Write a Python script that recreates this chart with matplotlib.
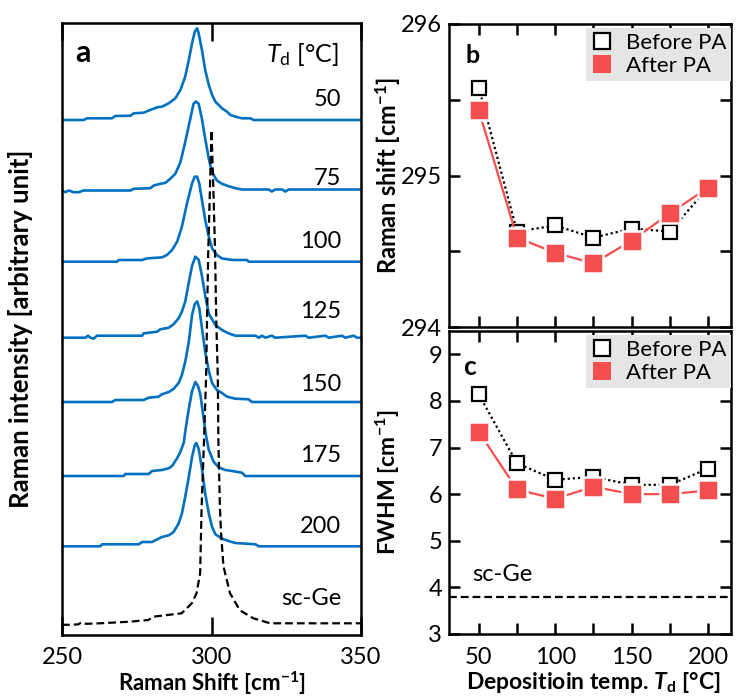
import matplotlib
matplotlib.use("Agg")
import matplotlib.pyplot as plt
from matplotlib.lines import Line2D

plt.rcParams['font.family'] = ['Lato', 'DejaVu Sans']
plt.rcParams['mathtext.fontset'] = 'custom'
plt.rcParams['mathtext.rm'] = 'Lato'
plt.rcParams['mathtext.it'] = 'Lato:italic'
plt.rcParams['mathtext.bf'] = 'Lato:bold'
plt.rcParams['mathtext.bfit'] = 'Lato:italic:bold'

# ---------------- Raman spectra (panel a) ----------------
deposition_labels = ["50", "75", "100", "125", "150", "175", "200"]

shift_50 = [250.0, 257.2, 258.4, 266.7, 267.8, 272.9, 274.0, 277.3, 279.5, 281.8, 283.4,
            285.7, 287.9, 289.6, 291.2, 292.4, 293.5, 294.4, 295.2, 295.7, 296.8, 297.9,
            299.1, 300.2, 301.3, 303.5, 305.2, 306.3, 308.0, 310.2, 313.0, 314.1, 350.0]
int_50 = [0, 0, 1.7, 1.7, 4, 4.3, 6.7, 7.3, 10, 12.7, 13.3, 16.7, 21.7, 30, 43.3, 60,
          76.7, 88.3, 91.7, 86.7, 70, 50, 35, 25, 18.3, 11.7, 8.3, 5, 3.3, 1.7, 1.7, 0, 0]

shift_75 = [250.0, 251.1, 252.2, 253.9, 255.6, 257.2, 272.9, 274.0, 279.5, 280.7, 282.9,
            284.6, 286.2, 287.9, 289.6, 291.2, 292.9, 294.0, 294.8, 295.7, 296.8, 297.9,
            299.1, 300.2, 301.8, 303.5, 305.7, 308.0, 310.2, 319.1, 320.2, 321.3, 323.6,
            324.7, 325.8, 328.0, 350.0]
int_75 = [-1, -2.7, -1, -2.7, -2.7, -1, -1, 0.7, 1.3, 4, 5.7, 6.7, 10.7, 15.7, 27.3, 47.3,
          70.7, 85.7, 88, 85.7, 70.7, 50.7, 30.7, 17.3, 9, 5.7, 3.3, 1.3, 0, 0, -2, 0, 0,
          -2, 0, 0, 0]

shift_100 = [250.0, 268.4, 269.0, 276.8, 278.4, 283.4, 285.1, 286.8, 288.5, 290.1, 291.8,
             293.5, 294.4, 295.2, 295.9, 296.8, 297.9, 299.1, 300.2, 301.8, 303.5, 305.7,
             307.4, 311.9, 312.4, 350.0]
int_100 = [0, 0, 1.7, 1.7, 3.3, 4.3, 6.7, 11.7, 20, 35, 58.3, 78.3, 85, 85, 78.3, 61.7,
           41.7, 25, 13.3, 6.7, 3.3, 2.3, 1.7, 1.7, 0, 0]

shift_125 = [250.0, 257.8, 258.7, 259.5, 260.6, 261.7, 276.8, 277.3, 281.8, 282.9, 285.7,
             287.3, 289.0, 290.1, 291.2, 292.4, 293.5, 294.6, 295.7, 296.8, 297.9, 299.1,
             301.3, 303.5, 305.7, 308.0, 314.7, 315.8, 316.9, 318.0, 320.2, 321.3, 331.4,
             332.5, 338.1, 339.2, 343.6, 344.8, 347.5, 348.7, 350.0]
int_125 = [0, 0, 2, 0, -1, 2, 2, 4.3, 6, 8.4, 10, 13.4, 19.4, 26, 36, 55, 72, 81, 78, 62,
           42, 24, 12.7, 7.7, 4.4, 2, 2, 0, 2, 0, 2, 0, 2, 0, 2, 0, 2, 0, 2, 0, 0]

shift_150 = [250.0, 266.7, 267.8, 277.3, 279.0, 282.3, 283.4, 285.7, 287.3, 289.0, 290.1,
             291.2, 292.4, 293.5, 294.4, 295.2, 295.9, 296.8, 297.9, 299.1, 300.2, 301.8,
             303.5, 305.2, 308.0, 312.4, 313.5, 350.0]
int_150 = [0, 0, 2, 2, 4.3, 5.3, 7.7, 10, 13, 19, 27, 40, 60, 87, 98, 100.6, 94, 74, 50,
           31, 19, 12, 9, 5.3, 3.3, 2.7, 0, 0]

shift_175 = [250.0, 270.6, 271.2, 279.0, 280.1, 283.4, 285.7, 286.8, 288.5, 289.6, 290.7,
             291.5, 292.4, 293.5, 294.6, 295.5, 296.3, 297.4, 298.2, 299.1, 300.7, 302.4,
             304.6, 306.9, 310.2, 311.3, 350.0]
int_175 = [0, 0, 2, 2, 5, 6, 7.7, 10, 17.7, 24.3, 33, 50, 67, 85, 94, 90, 81, 57, 40, 26,
           14.3, 8.7, 6, 5, 3.3, 0, 0]

shift_200 = [250.0, 262.8, 263.4, 275.6, 276.8, 280.1, 281.2, 283.4, 285.7, 287.3, 289.0,
             290.1, 291.2, 292.4, 293.5, 294.4, 294.9, 295.7, 296.8, 297.9, 299.1, 300.2,
             301.3, 303.5, 305.7, 308.0, 314.7, 315.8, 350.0]
int_200 = [0, 0, 2, 2, 4.3, 4.3, 6, 9.3, 11, 14.3, 22.7, 32.7, 49.3, 69.3, 89.3, 101,
           103.3, 97.7, 77.7, 52.7, 32.7, 19.3, 12, 7.7, 5.3, 3.3, 2, 0, 0]

shift_scge = [250.0, 253.0, 255.5, 256.5, 258.0, 262.7, 272.7, 278.9, 280.5, 290.0, 293.4,
              295.0, 296.2, 296.7, 297.5, 298.2, 298.5, 298.9, 299.5, 300.0, 300.6, 301.2,
              301.6, 302.1, 302.3, 302.8, 303.2, 304.0, 306.2, 309.5, 314.0, 319.6, 350.0]
int_scge = [-1.5, -1.5, -1.0, 1.0, -0.5, 0, 1.6, 3.3, 6.6, 10, 20, 30, 50, 117, 183, 247,
            303, 370, 437, 493, 437, 370, 303, 247, 183, 117, 90, 57, 30, 13, 5, 0, 0]

# vertical stacking offsets of the spectra (arbitrary units)
offsets = [515, 445.5, 373.3, 297.3, 233, 159, 88.7]
offset_scge = 11.7

# ---------------- peak position / FWHM (panels b, c) ----------------
temps = [50, 75, 100, 125, 150, 175, 200]
shift_before = [295.58, 294.63, 294.67, 294.59, 294.65, 294.63, 294.92]
shift_after = [295.43, 294.59, 294.49, 294.42, 294.57, 294.75, 294.92]
fwhm_before = [8.14, 6.66, 6.31, 6.37, 6.20, 6.20, 6.55]
fwhm_after = [7.34, 6.10, 5.90, 6.16, 6.00, 6.00, 6.08]
fwhm_scge = 3.8

BLUE = '#0070C0'
RED = '#F44E4E'
SPINE_W = 1.8

fig = plt.figure(figsize=(7.36, 6.99), dpi=100)
W, H = 736, 699
ax_a = fig.add_axes([62 / W, 1 - 635 / H, 299 / W, 612 / H])
ax_b = fig.add_axes([449 / W, 1 - 327 / H, 282 / W, 303 / H])
ax_c = fig.add_axes([449 / W, 1 - 634 / H, 282 / W, 303 / H])

for ax in (ax_a, ax_b, ax_c):
    for s in ax.spines.values():
        s.set_linewidth(SPINE_W)

# ---- panel a ----
spectra = [(shift_50, int_50), (shift_75, int_75), (shift_100, int_100),
           (shift_125, int_125), (shift_150, int_150), (shift_175, int_175),
           (shift_200, int_200)]
for (xs, ys), off in zip(spectra, offsets):
    ax_a.plot(xs, [v + off for v in ys], color=BLUE, lw=1.9, solid_joinstyle='round')
ax_a.plot(shift_scge, [v + offset_scge for v in int_scge], color='k', lw=1.6,
          dashes=(3.5, 1.8))

ax_a.set_xlim(250, 350)
ax_a.set_ylim(0, 612)
ax_a.set_yticks([])
ax_a.set_xticks([250, 300, 350])
ax_a.tick_params(axis='x', direction='in', top=True, length=13, width=SPINE_W,
                 labelsize=17, pad=9)

label_y = [529, 450, 387, 317, 244, 173, 102]
for lab, y in zip(deposition_labels, label_y):
    ax_a.text(343.3, y, lab, ha='right', va='baseline', fontsize=17)
ax_a.text(343.3, 30, "sc-Ge", ha='right', va='baseline', fontsize=17)
ax_a.text(342.5, 573, r"$T_{\mathrm{d}}$ [°C]", ha='right', va='baseline', fontsize=18)
ax_a.text(0.043, 0.936, "a", transform=ax_a.transAxes, ha='left', va='baseline',
          fontsize=22, fontweight='bold')

ax_a.set_xlabel(r"Raman Shift [cm$^{\mathbf{-1}}$]", fontsize=16, fontweight='bold')
ax_a.xaxis.set_label_coords(0.5, -0.057)
ax_a.set_ylabel("Raman intensity [arbitrary unit]", fontsize=18.5, fontweight='bold')
ax_a.yaxis.set_label_coords(-0.097, 0.5)

# ---- panels b and c ----
def draw_series(ax, before, after):
    ax.plot(temps, before, color='k', lw=1.6, dashes=(1, 1.3), marker='s', ms=10.6,
            mfc='white', mec='k', mew=1.6, zorder=3)
    ax.plot(temps, after, color=RED, lw=1.6, marker='s', ms=14, mfc=RED, mec='white',
            mew=1.8, zorder=4)
    handles = [Line2D([], [], ls='none', marker='s', ms=11.5, mfc='white', mec='k', mew=1.6),
               Line2D([], [], ls='none', marker='s', ms=13.5, mfc=RED, mec=RED, mew=0)]
    ax.legend(handles, ["Before PA", "After PA"], loc='upper right',
              bbox_to_anchor=(1.0, 0.987), frameon=True, facecolor='#E5E5E5',
              edgecolor='none', framealpha=1, fancybox=False, fontsize=16,
              handlelength=1.0, handletextpad=0.55, borderpad=0.22, labelspacing=0.15,
              borderaxespad=0)
    ax.set_xlim(30.5, 215)
    ax.set_xticks([50, 75, 100, 125, 150, 175, 200])
    ax.tick_params(direction='in', top=True, right=True, length=8, width=SPINE_W,
                   labelsize=17, pad=5)

draw_series(ax_b, shift_before, shift_after)
ax_b.set_ylim(294, 296)
ax_b.set_yticks([294, 294.5, 295, 295.5, 296])
ax_b.set_yticklabels(["294", "", "295", "", "296"])
ax_b.tick_params(axis='x', labelbottom=False)
ax_b.text(0.06, 0.871, "b", transform=ax_b.transAxes, ha='left', va='baseline',
          fontsize=18, fontweight='bold')
ax_b.set_ylabel(r"Raman shift [cm$^{\mathbf{-1}}$]", fontsize=17, fontweight='bold')
ax_b.yaxis.set_label_coords(-0.167, 0.5)

draw_series(ax_c, fwhm_before, fwhm_after)
ax_c.axhline(fwhm_scge, color='k', lw=1.6, dashes=(3.5, 1.8), zorder=2)
ax_c.text(45.5, 4.27, "sc-Ge", ha='left', va='center', fontsize=17)
ax_c.set_ylim(3, 9.5)
ax_c.set_yticks([3, 4, 5, 6, 7, 8, 9])
ax_c.set_xticklabels(["50", "", "100", "", "150", "", "200"])
ax_c.tick_params(axis='x', pad=9)
ax_c.text(0.05, 0.855, "c", transform=ax_c.transAxes, ha='left', va='baseline',
          fontsize=19, fontweight='bold')
ax_c.set_ylabel(r"FWHM [cm$^{\mathbf{-1}}$]", fontsize=16.5, fontweight='bold')
ax_c.yaxis.set_label_coords(-0.167, 0.5)
ax_c.set_xlabel(r"Depositioin temp. $\mathbfit{T}_{\mathbf{d}}$ [°C]", fontsize=16.5,
                fontweight='bold')
ax_c.xaxis.set_label_coords(0.51, -0.118)

fig.savefig("out.png", dpi=100)
